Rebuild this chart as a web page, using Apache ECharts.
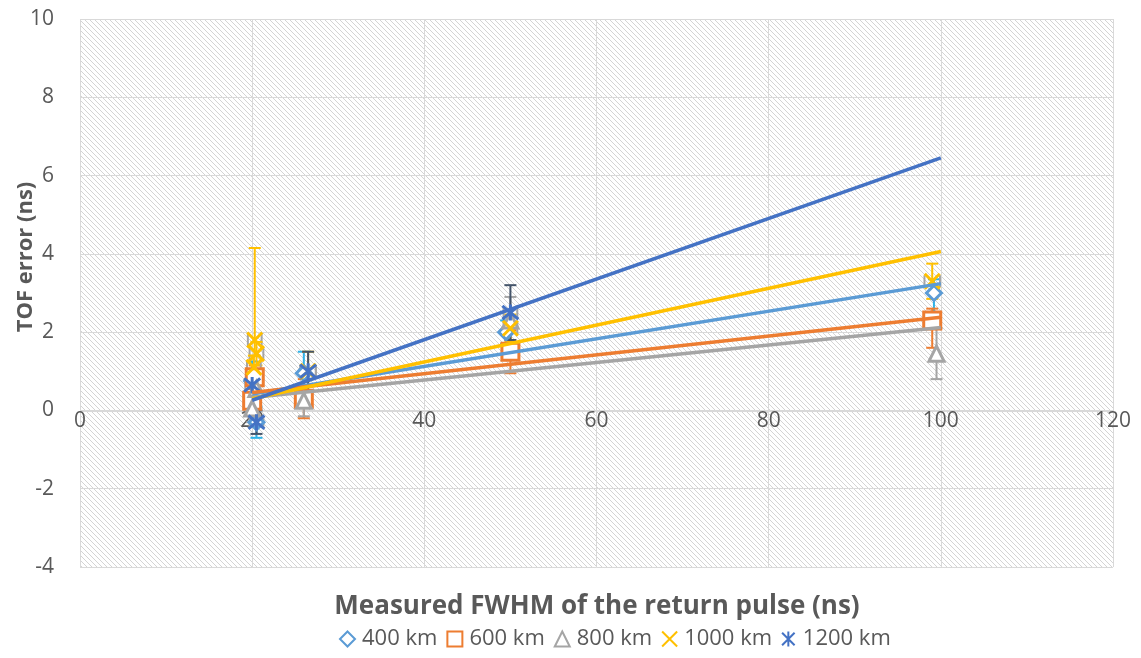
<!DOCTYPE html>
<html>
<head>
<meta charset="utf-8">
<script src="https://cdn.jsdelivr.net/npm/echarts@6/dist/echarts.min.js"></script>
<style>
html,body{margin:0;padding:0;background:#fff;}
#chart{width:1141px;height:658px;}
</style>
</head>
<body>
<div id="chart"></div>
<script>
// ---- data ----
const seriesNames = ['400 km', '600 km', '800 km', '1000 km', '1200 km'];
const xTicks = [0, 20, 40, 60, 80, 100, 120];
const yTicks = [-4, -2, 0, 2, 4, 6, 8, 10];

const x400 = [20.0, 20.5, 26.0, 49.5, 99.2];
const y400 = [0.75, -0.3, 0.95, 2.0, 3.0];
const eUp400 = [0.5, 0.4, 0.55, 0.3, 0.35];
const eDn400 = [0.5, 0.4, 0.55, 0.3, 0.5];

const x600 = [20.0, 20.3, 26.0, 50.0, 99.0];
const y600 = [0.25, 0.85, 0.3, 1.5, 2.3];
const eUp600 = [0.3, 0.3, 0.5, 0.55, 0.3];
const eDn600 = [0.3, 0.3, 0.5, 0.55, 0.7];

const x800 = [20.0, 20.5, 26.0, 50.0, 99.5];
const y800 = [0.05, 0.55, 0.25, 2.3, 1.45];
const eUp800 = [0.35, 0.5, 0.4, 0.6, 0.65];
const eDn800 = [0.35, 0.5, 0.4, 0.6, 0.65];

const x1000 = [20.3, 20.5, 20.2, 26.5, 50.0, 99.0];
const y1000 = [1.8, 1.45, 1.1, 1.0, 2.1, 3.3];
const eUp1000 = [2.35, 0.3, 0.3, 0.5, 0.35, 0.45];
const eDn1000 = [0.4, 0.3, 0.3, 0.5, 0.35, 0.45];
const xe1000 = [0.8, 0.8, 0.8, 0.9, 0.8, 0.9];

const x1200 = [20.0, 20.5, 26.5, 50.0];
const y1200 = [0.65, -0.3, 1.0, 2.5];
const eUp1200 = [0.3, 0.3, 0.5, 0.7];
const eDn1200 = [0.3, 0.3, 0.5, 0.7];
const xe1200 = [0.8, 0.8, 0.9, 0.8];

// linear trend lines (start at x=20, end at x=100)
const trendX = [20, 100];
const trend400 = [0.42, 3.24];
const trend600 = [0.46, 2.38];
const trend800 = [0.33, 2.12];
const trend1000 = [0.30, 4.06];
const trend1200 = [0.26, 6.45];

// ---- styling ----
const colors = ['#5B9BD5', '#ED7D31', '#A5A5A5', '#FFC000', '#4472C4'];
const errColors = ['#2EB3E8', '#ED7D31', '#A5A5A5', '#FFC000', '#44546A'];
const symbols = [
  'diamond',
  'rect',
  'triangle',
  'path://M0,0L10,10M10,0L0,10',
  'path://M0,0L10,10M10,0L0,10M5,-1L5,11'
];
const symbolSizes = [15, 17, 15, 15, 16];
const textColor = '#595959';
const fontFam = '"Open Sans", "Noto Sans", sans-serif';

const xs = [x400, x600, x800, x1000, x1200];
const ys = [y400, y600, y800, y1000, y1200];
const eUps = [eUp400, eUp600, eUp800, eUp1000, eUp1200];
const eDns = [eDn400, eDn600, eDn800, eDn1000, eDn1200];
const xes = [null, null, null, xe1000, xe1200];
const trends = [trend400, trend600, trend800, trend1000, trend1200];

// hatched background pattern
const cv = document.createElement('canvas');
cv.width = 5; cv.height = 5;
const cx = cv.getContext('2d');
cx.fillStyle = '#ffffff';
cx.fillRect(0, 0, 5, 5);
cx.strokeStyle = '#d4d4d4';
cx.lineWidth = 1;
cx.beginPath();
cx.moveTo(-1, -1); cx.lineTo(6, 6);
cx.moveTo(-6, -1); cx.lineTo(1, 6);
cx.moveTo(4, -1); cx.lineTo(11, 6);
cx.stroke();

function errorRender(color) {
  return function (params, api) {
    const x = api.value(0), y = api.value(1);
    const lo = api.value(2), hi = api.value(3), xe = api.value(4);
    const pHi = api.coord([x, hi]);
    const pLo = api.coord([x, lo]);
    const cap = 6;
    const st = { stroke: color, lineWidth: 2 };
    const children = [
      { type: 'line', shape: { x1: pHi[0], y1: pHi[1], x2: pLo[0], y2: pLo[1] }, style: st },
      { type: 'line', shape: { x1: pHi[0] - cap, y1: pHi[1], x2: pHi[0] + cap, y2: pHi[1] }, style: st },
      { type: 'line', shape: { x1: pLo[0] - cap, y1: pLo[1], x2: pLo[0] + cap, y2: pLo[1] }, style: st }
    ];
    if (xe > 0) {
      const pL = api.coord([x - xe, y]);
      const pR = api.coord([x + xe, y]);
      const st2 = { stroke: '#A5A5A5', lineWidth: 2 };
      children.push(
        { type: 'line', shape: { x1: pL[0], y1: pL[1] - cap, x2: pL[0], y2: pL[1] + cap }, style: st2 },
        { type: 'line', shape: { x1: pR[0], y1: pR[1] - cap, x2: pR[0], y2: pR[1] + cap }, style: st2 }
      );
    }
    return { type: 'group', children: children };
  };
}

const series = [];
// error bars
seriesNames.forEach((n, i) => {
  const data = xs[i].map((x, k) => [x, ys[i][k], ys[i][k] - eDns[i][k], ys[i][k] + eUps[i][k], xes[i] ? xes[i][k] : 0]);
  series.push({
    type: 'custom',
    name: n + ' err',
    renderItem: errorRender(errColors[i]),
    data: data,
    encode: { x: 0, y: 1 },
    z: 2,
    silent: true
  });
});
// markers
seriesNames.forEach((n, i) => {
  series.push({
    type: 'scatter',
    name: n,
    symbol: symbols[i],
    symbolSize: symbolSizes[i],
    data: xs[i].map((x, k) => [x, ys[i][k]]),
    itemStyle: {
      color: i >= 3 ? 'rgba(0,0,0,0)' : '#ffffff',
      borderColor: colors[i],
      borderWidth: 3,
      opacity: 1
    },
    z: 3
  });
});
// trend lines
seriesNames.forEach((n, i) => {
  series.push({
    type: 'line',
    name: n + ' trend',
    data: trendX.map((x, k) => [x, trends[i][k]]),
    showSymbol: false,
    symbol: 'none',
    lineStyle: { color: colors[i], width: 3.5 },
    z: 4,
    silent: true
  });
});

const chart = echarts.init(document.getElementById('chart'), null, { renderer: 'canvas' });
chart.setOption({
  animation: false,
  backgroundColor: '#ffffff',
  textStyle: { fontFamily: fontFam },
  grid: {
    left: 80, right: 28, top: 19, bottom: 91,
    show: true,
    backgroundColor: { image: cv, repeat: 'repeat' },
    borderWidth: 0
  },
  xAxis: {
    type: 'value',
    position: 'bottom',
    offset: -156,
    min: xTicks[0], max: xTicks[xTicks.length - 1], interval: 20,
    axisLine: { show: true, onZero: false, lineStyle: { color: '#D9D9D9', width: 1 } },
    axisTick: { show: false },
    axisLabel: { color: textColor, fontSize: 21, margin: 0 },
    splitLine: { show: true, lineStyle: { color: '#D9D9D9', width: 1 } }
  },
  yAxis: {
    type: 'value',
    min: yTicks[0], max: yTicks[yTicks.length - 1], interval: 2,
    axisLine: { show: false },
    axisTick: { show: false },
    axisLabel: { color: textColor, fontSize: 21, margin: 26 },
    splitLine: { show: true, lineStyle: { color: '#D9D9D9', width: 1 } }
  },
  graphic: [
    {
      type: 'text',
      x: 597,
      y: 607,
      style: {
        text: 'Measured FWHM of the return pulse (ns)',
        fill: textColor,
        font: 'bold 26px ' + fontFam,
        align: 'center',
        verticalAlign: 'middle'
      }
    },
    {
      type: 'text',
      x: 26,
      y: 257,
      rotation: Math.PI / 2,
      style: {
        text: 'TOF error (ns)',
        fill: textColor,
        font: 'bold 22px ' + fontFam,
        align: 'center',
        verticalAlign: 'middle'
      }
    }
  ],
  legend: {
    data: seriesNames,
    bottom: 3,
    left: 334,
    itemWidth: 15,
    itemHeight: 15,
    itemGap: 9,
    textStyle: { color: textColor, fontSize: 22, padding: [0, 0, 0, 2] }
  },
  series: series
});
</script>
</body>
</html>
